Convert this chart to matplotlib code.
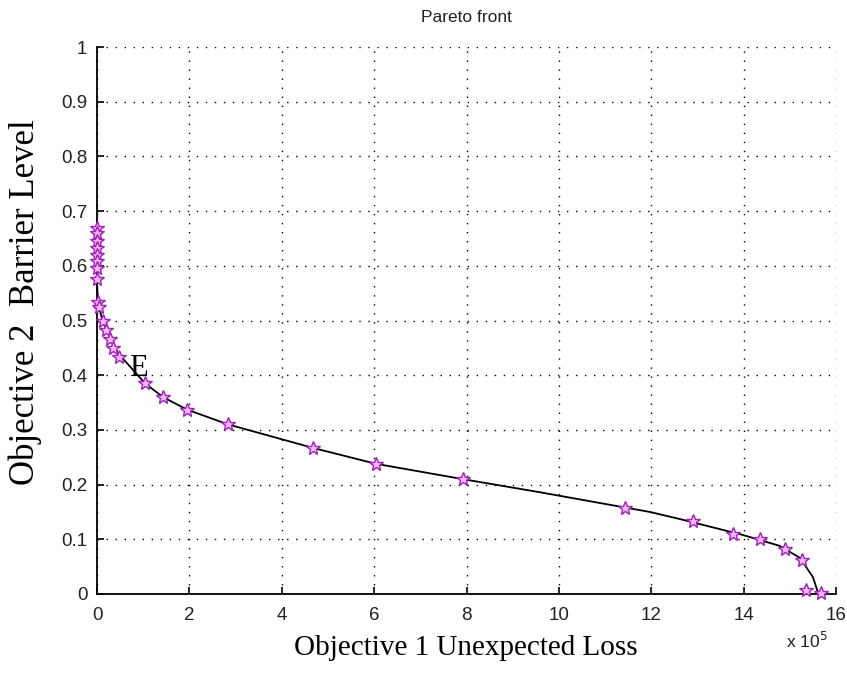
import matplotlib
matplotlib.use("Agg")
import matplotlib.pyplot as plt
import numpy as np

# Pareto-optimal solutions (Objective 1 in units of 1e5)
loss = [0.00, 0.00, 0.00, 0.00, 0.00, 0.00, 0.01, 0.01, 0.03, 0.05,
        0.12, 0.20, 0.28, 0.35, 0.48, 1.04, 1.43, 1.95, 2.84, 4.68,
        6.04, 7.92, 11.43, 12.90, 13.77, 14.35, 14.89, 15.26, 15.35, 15.67]
barrier = [0.670, 0.660, 0.645, 0.632, 0.620, 0.608, 0.596, 0.575, 0.534, 0.525,
           0.500, 0.483, 0.467, 0.450, 0.434, 0.385, 0.360, 0.337, 0.310, 0.267,
           0.238, 0.210, 0.157, 0.133, 0.110, 0.100, 0.082, 0.062, 0.007, 0.002]

# Fitted front curve
curve_loss = [0.0, 0.0, 0.02, 0.05, 0.12, 0.25, 0.45, 0.65, 1.04, 1.43, 1.95,
              2.84, 4.68, 6.04, 7.92, 9.59, 11.97, 12.62, 13.98, 14.78, 15.22,
              15.50, 15.62]
curve_barrier = [0.68, 0.57, 0.535, 0.522, 0.500, 0.475, 0.440, 0.422, 0.385,
                 0.360, 0.337, 0.310, 0.267, 0.238, 0.210, 0.186, 0.150, 0.137,
                 0.108, 0.088, 0.066, 0.031, 0.0]

xticks = [0, 2, 4, 6, 8, 10, 12, 14, 16]
yticks = [0, 0.1, 0.2, 0.3, 0.4, 0.5, 0.6, 0.7, 0.8, 0.9, 1]
ytick_labels = ["0", "0.1", "0.2", "0.3", "0.4", "0.5", "0.6", "0.7", "0.8", "0.9", "1"]

fig = plt.figure(figsize=(8.47, 6.73), dpi=100)
ax = fig.add_axes([97 / 847, 1 - 594 / 673, (836 - 97) / 847, (594 - 47) / 673])

ax.plot(curve_loss, curve_barrier, color="black", lw=1.3, zorder=3,
        clip_on=False)
ax.plot(loss, barrier, linestyle="none", marker="*", ms=10.5,
        mfc="#efb8ef", mec="#a020b8", mew=1.0, zorder=4, clip_on=False)

ax.set_xlim(0, 16)
ax.set_ylim(0, 1)
ax.set_xticks(xticks)
ax.set_xticklabels([str(t) for t in xticks])
ax.set_yticks(yticks)
ax.set_yticklabels(ytick_labels)

ax.grid(True, color="black", lw=1.0, linestyle=(0, (1, 5.5)))
ax.set_axisbelow(True)
for side in ("top", "right"):
    ax.spines[side].set_visible(False)
for side in ("left", "bottom"):
    ax.spines[side].set_linewidth(1.3)
    ax.spines[side].set_zorder(3.5)

ax.tick_params(direction="in", length=5, width=1.2, top=False, right=False,
               labelsize=13.5, labelcolor="#222222")
ax.tick_params(axis="x", pad=9)
ax.tick_params(axis="y", pad=7)
for lab in ax.get_xticklabels() + ax.get_yticklabels():
    lab.set_family("Liberation Sans")

ax.set_title("Pareto front", fontsize=12.5, family="Liberation Sans",
             color="#222222", pad=18)

serif = "Liberation Serif"
fig.text(466 / 847, 1 - 648 / 673, "Objective 1 Unexpected Loss",
         ha="center", va="center", fontsize=21, family=serif)
fig.text(25 / 847, 1 - 302 / 673, "Objective 2  Barrier Level",
         ha="center", va="center", rotation=90, fontsize=25, family=serif)
fig.text(807 / 847, 1 - 641 / 673, r"x 10$^{5}$", ha="center", va="center",
         fontsize=12.5, family="Liberation Sans", color="#222222")

ax.text(0.89, 0.413, "E", ha="center", va="center", fontsize=22, family=serif,
        zorder=6)

fig.savefig("out.png", dpi=100)
